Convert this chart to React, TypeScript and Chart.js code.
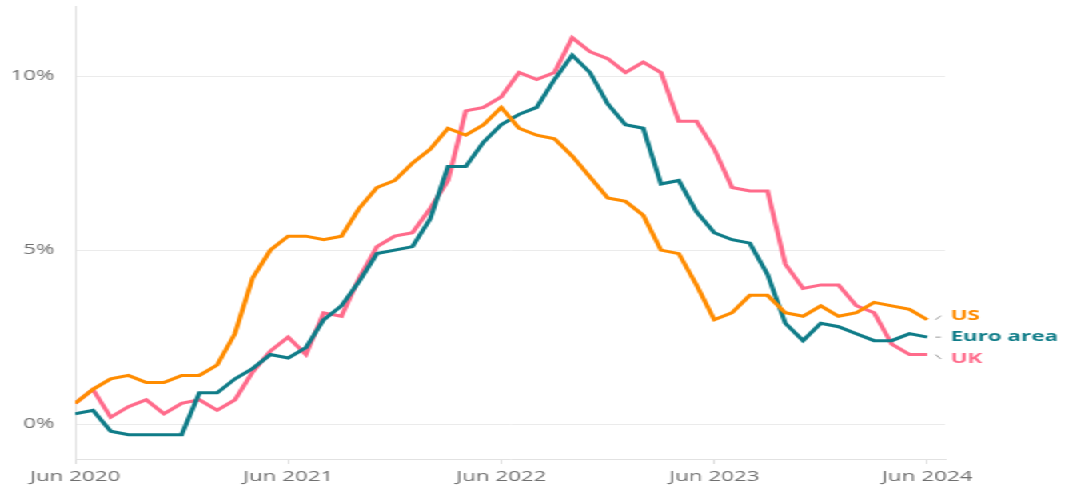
import React, { useEffect, useRef } from "react";
import { Chart, registerables } from "chart.js";
Chart.register(...registerables);

const months = [
  "Jun 2020", "Jul 2020", "Aug 2020", "Sep 2020", "Oct 2020", "Nov 2020", "Dec 2020",
  "Jan 2021", "Feb 2021", "Mar 2021", "Apr 2021", "May 2021", "Jun 2021", "Jul 2021",
  "Aug 2021", "Sep 2021", "Oct 2021", "Nov 2021", "Dec 2021",
  "Jan 2022", "Feb 2022", "Mar 2022", "Apr 2022", "May 2022", "Jun 2022", "Jul 2022",
  "Aug 2022", "Sep 2022", "Oct 2022", "Nov 2022", "Dec 2022",
  "Jan 2023", "Feb 2023", "Mar 2023", "Apr 2023", "May 2023", "Jun 2023", "Jul 2023",
  "Aug 2023", "Sep 2023", "Oct 2023", "Nov 2023", "Dec 2023",
  "Jan 2024", "Feb 2024", "Mar 2024", "Apr 2024", "May 2024", "Jun 2024",
];

const usValues = [
  0.6, 1.0, 1.3, 1.4, 1.2, 1.2, 1.4,
  1.4, 1.7, 2.6, 4.2, 5.0, 5.4, 5.4, 5.3, 5.4, 6.2, 6.8, 7.0,
  7.5, 7.9, 8.5, 8.3, 8.6, 9.1, 8.5, 8.3, 8.2, 7.7, 7.1, 6.5,
  6.4, 6.0, 5.0, 4.9, 4.0, 3.0, 3.2, 3.7, 3.7, 3.2, 3.1, 3.4,
  3.1, 3.2, 3.5, 3.4, 3.3, 3.0,
];

const euroValues = [
  0.3, 0.4, -0.2, -0.3, -0.3, -0.3, -0.3,
  0.9, 0.9, 1.3, 1.6, 2.0, 1.9, 2.2, 3.0, 3.4, 4.1, 4.9, 5.0,
  5.1, 5.9, 7.4, 7.4, 8.1, 8.6, 8.9, 9.1, 9.9, 10.6, 10.1, 9.2,
  8.6, 8.5, 6.9, 7.0, 6.1, 5.5, 5.3, 5.2, 4.3, 2.9, 2.4, 2.9,
  2.8, 2.6, 2.4, 2.4, 2.6, 2.5,
];

const ukValues = [
  0.6, 1.0, 0.2, 0.5, 0.7, 0.3, 0.6,
  0.7, 0.4, 0.7, 1.5, 2.1, 2.5, 2.0, 3.2, 3.1, 4.2, 5.1, 5.4,
  5.5, 6.2, 7.0, 9.0, 9.1, 9.4, 10.1, 9.9, 10.1, 11.1, 10.7, 10.5,
  10.1, 10.4, 10.1, 8.7, 8.7, 7.9, 6.8, 6.7, 6.7, 4.6, 3.9, 4.0,
  4.0, 3.4, 3.2, 2.3, 2.0, 2.0,
];

const seriesNames = ["US", "Euro area", "UK"];
const seriesColors = ["#ff8c00", "#0f7c88", "#ff6b8b"];
const xTickValues = [0, 12, 24, 36, 48];
const yTickValues = [0, 5, 10];

// Horizontal stretch of the whole picture (the reference is widened).
const CANVAS_W = 666;
const CANVAS_H = 489;
const STRETCH = 1065 / CANVAS_W;

const FONT = "'Open Sans', 'DejaVu Sans', sans-serif";

const endLabels = {
  id: "endLabels",
  afterDatasetsDraw(chart: any) {
    const ctx = chart.ctx;
    const offsets = [-4, 0, 4.5];
    ctx.save();
    chart.data.datasets.forEach((ds: any, i: number) => {
      const meta = chart.getDatasetMeta(i);
      const last = meta.data[meta.data.length - 1];
      if (!last) return;
      const lineY = last.y;
      const labelY = lineY + offsets[i];
      const x0 = last.x + 5.2;
      const x1 = last.x + 8.5;
      ctx.strokeStyle = "#9a9a9a";
      ctx.lineWidth = 1;
      ctx.beginPath();
      ctx.moveTo(x0, lineY);
      ctx.lineTo(x1, labelY);
      ctx.stroke();
      ctx.fillStyle = ds.borderColor;
      ctx.font = `bold 14px ${FONT}`;
      ctx.textAlign = "left";
      ctx.textBaseline = "middle";
      ctx.fillText(ds.label, last.x + 14.5, labelY);
    });
    ctx.restore();
  },
};

export default function App() {
  const ref = useRef<HTMLCanvasElement | null>(null);

  useEffect(() => {
    const canvas = ref.current;
    if (!canvas) return;
    const toPoints = (vals: number[]) => vals.map((v, i) => ({ x: i, y: v }));
    const all = [usValues, euroValues, ukValues];
    const chart = new Chart(canvas, {
      type: "line",
      data: {
        labels: months,
        datasets: all.map((vals, i) => ({
          label: seriesNames[i],
          data: toPoints(vals),
          borderColor: seriesColors[i],
          backgroundColor: seriesColors[i],
          borderWidth: 3,
          pointRadius: 0,
          tension: 0,
          fill: false,
        })),
      },
      options: {
        responsive: false,
        animation: false,
        devicePixelRatio: 1,
        layout: { padding: { left: 0, right: 75, top: 6.4, bottom: 0 } },
        plugins: {
          legend: { display: false },
          tooltip: { enabled: false },
        },
        scales: {
          x: {
            type: "linear",
            min: 0,
            max: 49,
            afterBuildTicks: (scale: any) => {
              scale.ticks = xTickValues.map((v) => ({ value: v }));
            },
            afterFit: (scale: any) => {
              scale.height = 30;
              scale.paddingLeft = 0;
              scale.paddingRight = 0;
            },
            ticks: {
              autoSkip: false,
              maxRotation: 0,
              padding: 5,
              color: "#707070",
              font: { family: FONT, size: 14 },
              callback: (v: any) => months[Number(v)] ?? "",
            },
            grid: {
              display: true,
              drawOnChartArea: false,
              drawTicks: true,
              tickLength: 5,
              color: "#dddddd",
            },
            border: { display: true, color: "#e2e2e2", width: 1 },
          },
          y: {
            type: "linear",
            min: -1,
            max: 12,
            afterBuildTicks: (scale: any) => {
              scale.ticks = yTickValues.map((v) => ({ value: v }));
            },
            afterFit: (scale: any) => {
              scale.width = 47;
              scale.paddingTop = 0;
              scale.paddingBottom = 0;
            },
            ticks: {
              padding: 13,
              color: "#707070",
              font: { family: FONT, size: 14 },
              callback: (v: any) => `${v}%`,
            },
            grid: {
              display: true,
              drawTicks: false,
              color: "#ebebeb",
              lineWidth: 1,
            },
            border: { display: true, color: "#e2e2e2", width: 1 },
          },
        },
      },
      plugins: [endLabels],
    } as any);
    return () => chart.destroy();
  }, []);

  return (
    <div
      style={{
        position: "fixed",
        left: 0,
        top: 0,
        width: CANVAS_W,
        height: CANVAS_H,
        transform: `scaleX(${STRETCH})`,
        transformOrigin: "0 0",
        background: "#ffffff",
      }}
    >
      <canvas ref={ref} width={CANVAS_W} height={CANVAS_H} style={{ width: CANVAS_W, height: CANVAS_H }} />
    </div>
  );
}
